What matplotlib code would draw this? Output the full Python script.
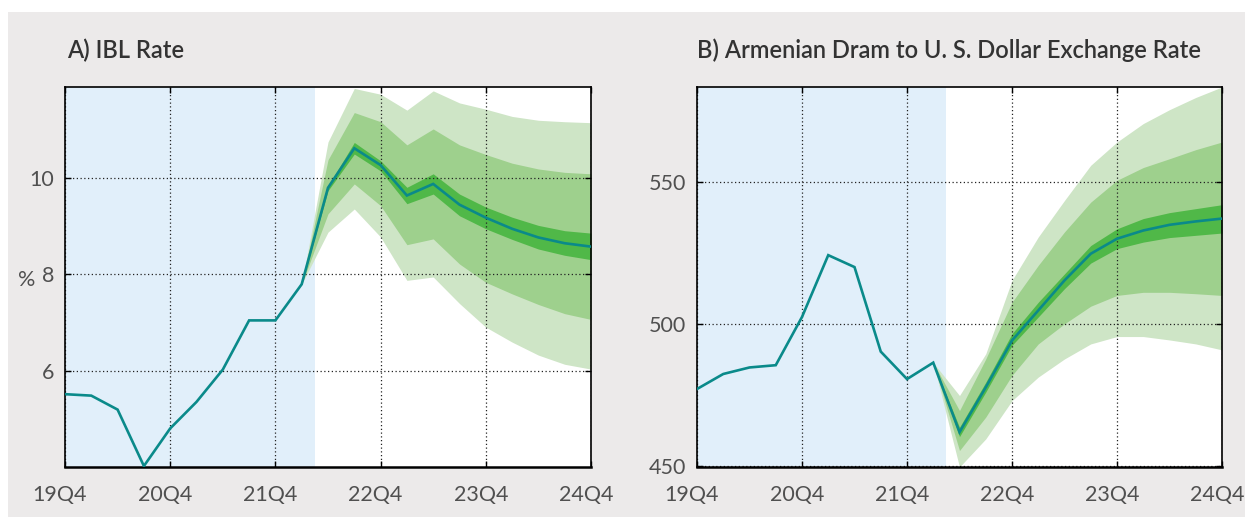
import numpy as np
import matplotlib
matplotlib.use("Agg")
from matplotlib import pyplot as plt
from matplotlib.patches import Rectangle
import matplotlib.transforms as mtransforms

# quarters from 19Q4 (0) to 24Q4 (20)
quarters = np.arange(21)
tick_pos = [0, 4, 8, 12, 16, 20]
tick_labels = ["19Q4", "20Q4", "21Q4", "22Q4", "23Q4", "24Q4"]
hist_end = 9.5  # shaded history ends between 22Q1 and 22Q2

# A) IBL rate, central path
ibl = [5.51, 5.48, 5.19, 4.02, 4.80, 5.35, 6.02, 7.04, 7.04, 7.79,
       9.79, 10.61, 10.26, 9.63, 9.87, 9.44, 9.17, 8.94, 8.76, 8.64, 8.57]
# fan bands, from 22Q1 (index 9) to 24Q4
ibl_outer_hi = [7.79, 10.74, 11.85, 11.73, 11.40, 11.80, 11.55, 11.42, 11.27, 11.19, 11.16, 11.14]
ibl_mid_hi = [7.79, 10.37, 11.35, 11.16, 10.68, 11.01, 10.68, 10.48, 10.30, 10.18, 10.11, 10.08]
ibl_in_hi = [7.79, 9.83, 10.73, 10.35, 9.80, 10.08, 9.66, 9.39, 9.18, 9.01, 8.90, 8.85]
ibl_in_lo = [7.79, 9.73, 10.49, 10.14, 9.46, 9.66, 9.21, 8.94, 8.72, 8.52, 8.39, 8.30]
ibl_mid_lo = [7.79, 9.25, 9.87, 9.42, 8.61, 8.73, 8.21, 7.83, 7.59, 7.37, 7.18, 7.06]
ibl_outer_lo = [7.79, 8.87, 9.35, 8.77, 7.87, 7.94, 7.39, 6.90, 6.59, 6.32, 6.13, 6.03]

# B) AMD/USD exchange rate, central path
amd = [477.0, 482.3, 484.6, 485.4, 502.4, 524.2, 520.0, 490.2, 480.5, 486.3,
       461.8, 477.6, 494.1, 504.7, 515.3, 524.7, 530.0, 532.9, 534.9, 536.1, 537.1]
amd_outer_hi = [486.3, 474.7, 489.4, 515.3, 530.6, 543.5, 555.9, 564.1, 570.6, 575.5, 579.8, 583.5]
amd_mid_hi = [486.3, 469.4, 487.6, 507.6, 520.6, 532.4, 542.9, 550.6, 555.1, 558.2, 561.4, 564.1]
amd_in_hi = [486.3, 463.5, 479.4, 496.5, 507.6, 517.6, 527.6, 533.5, 537.1, 539.2, 540.6, 542.0]
amd_in_lo = [486.3, 460.2, 475.9, 492.4, 502.4, 512.4, 521.4, 526.5, 528.8, 530.4, 531.2, 532.0]
amd_mid_lo = [486.3, 455.3, 467.1, 481.8, 492.9, 500.0, 506.2, 510.0, 511.1, 511.1, 510.6, 510.0]
amd_outer_lo = [486.3, 449.5, 459.4, 472.9, 481.2, 487.6, 492.9, 495.5, 495.5, 494.3, 492.9, 490.8]

BG = "#ECEAEA"
HIST = "#E1EFFA"
G_LIGHT = "#CEE5C6"
G_MID = "#9ED08D"
G_DARK = "#50B848"
LINE = "#0A8A8A"
TXT = "#505050"
FONT = ["Lato", "DejaVu Sans"]

plt.rcParams["font.family"] = FONT

fig = plt.figure(figsize=(12.45, 5.17), dpi=100, facecolor="white")
fig.patches.append(Rectangle((8 / 1245, 0), 1, 1 - 12 / 517, transform=fig.transFigure,
                             facecolor=BG, edgecolor="none", zorder=-10))
shift_left = mtransforms.ScaledTranslation(-5 / 100, 0, fig.dpi_scale_trans)


def draw_panel(ax, line, bands, yticks, ylim, title, title_x):
    fc_x = quarters[9:]
    outer_hi, mid_hi, in_hi, in_lo, mid_lo, outer_lo = bands
    ax.axvspan(0, hist_end, color=HIST, lw=0, zorder=0)
    ax.fill_between(fc_x, outer_lo, outer_hi, color=G_LIGHT, lw=0, zorder=1)
    ax.fill_between(fc_x, mid_lo, mid_hi, color=G_MID, lw=0, zorder=1.1)
    ax.fill_between(fc_x, in_lo, in_hi, color=G_DARK, lw=0, zorder=1.2)
    ax.plot(quarters, line, color=LINE, lw=1.9, zorder=4, solid_joinstyle="miter")
    ax.set_xlim(0, 20)
    ax.set_ylim(*ylim)
    ax.set_xticks(tick_pos)
    ax.set_xticklabels(tick_labels)
    ax.set_yticks(yticks)
    ax.grid(True, color="#222222", linestyle=(0, (1, 2)), lw=0.9)
    ax.tick_params(direction="in", length=4, width=1, top=True, right=True,
                   colors="black", labelcolor=TXT, labelsize=15.5)
    ax.tick_params(axis="x", pad=13)
    ax.tick_params(axis="y", pad=8)
    for lab in ax.get_xticklabels():
        lab.set_transform(lab.get_transform() + shift_left)
    for s in ax.spines.values():
        s.set_color("black")
        s.set_linewidth(1.2)
    ax.spines["bottom"].set_linewidth(1.8)
    ax.set_facecolor("white")
    fig.text(title_x, 1 - 58 / 517, title, fontsize=17, fontweight="semibold",
             color="#333333", ha="left", va="baseline")


ax1 = fig.add_axes([65 / 1245, 50 / 517, 526 / 1245, 380 / 517])
draw_panel(ax1, ibl, [ibl_outer_hi, ibl_mid_hi, ibl_in_hi, ibl_in_lo, ibl_mid_lo, ibl_outer_lo],
           [6, 8, 10], (4.0, 11.88), "A) IBL Rate", 67 / 1245)
ax1.set_ylabel("%", rotation=0, fontsize=15.5, color=TXT)
ax1.yaxis.set_label_coords(-0.072, 0.465)

ax2 = fig.add_axes([697 / 1245, 50 / 517, 525 / 1245, 380 / 517])
draw_panel(ax2, amd, [amd_outer_hi, amd_mid_hi, amd_in_hi, amd_in_lo, amd_mid_lo, amd_outer_lo],
           [450, 500, 550], (449.5, 583.5), "B) Armenian Dram to U. S. Dollar Exchange Rate",
           697 / 1245)

fig.savefig("out.png", dpi=100, facecolor=fig.get_facecolor())
